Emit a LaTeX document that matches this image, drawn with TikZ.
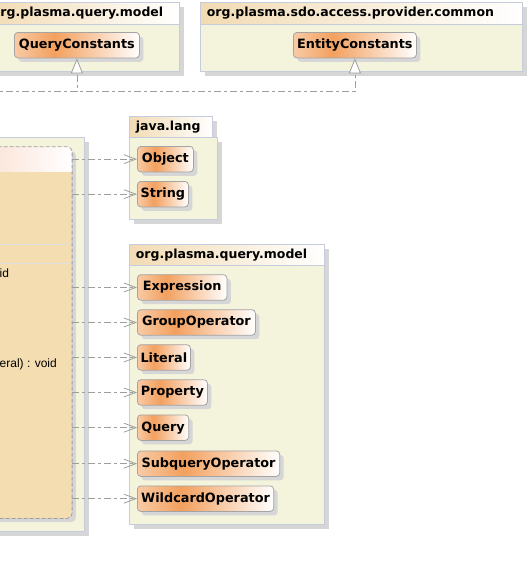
\documentclass[tikz,border=0pt]{standalone}
\usepackage{fontspec}
\setmainfont{DejaVu Sans}
\newfontfamily\opfont{Liberation Sans}
\usetikzlibrary{arrows.meta,shadows}

\definecolor{pkgbody}{HTML}{F4F4DC}
\definecolor{pkgline}{HTML}{C5CCDD}
\definecolor{shadowgrey}{HTML}{D6D6D6}
\definecolor{pkghead}{HTML}{F2DBB3}
\definecolor{orangeA}{HTML}{F8CBA6}
\definecolor{orangeB}{HTML}{F3A05E}
\definecolor{typeline}{HTML}{A4A4A4}
\definecolor{clsfill}{HTML}{F5DDB2}
\definecolor{clshead}{HTML}{F9DACA}
\definecolor{edgegrey}{HTML}{9E9E9E}

\pgfdeclarehorizontalshading{typeshade}{100bp}{color(0bp)=(orangeA); color(25bp)=(orangeA); color(41bp)=(orangeB); color(75bp)=(white); color(100bp)=(white)}

\tikzset{
  shade4/.style={general shadow={fill=shadowgrey, shadow xshift=4.5pt, shadow yshift=-4.5pt}},
  pkghd/.style={anchor=north west, left color=pkghead, right color=white, draw=pkgline,
    line width=0.8pt, inner xsep=6.5pt, inner ysep=0pt, align=left, shade4,
    font=\fontsize{12.5}{14}\selectfont\bfseries},
  pkgbd/.style={anchor=north west, fill=pkgbody, draw=pkgline, line width=0.8pt,
    inner sep=0pt, shade4},
  typ/.style={anchor=north west, draw=typeline, line width=0.8pt, rounded corners=3.5pt,
    shading=typeshade, inner sep=0pt, minimum height=25.5pt,
    font=\fontsize{12.8}{14}\selectfont\bfseries,
    general shadow={fill=shadowgrey, shadow xshift=4pt, shadow yshift=-4pt}},
  dep/.style={draw=edgegrey, line width=0.8pt,
    dash pattern=on 7pt off 3pt on 3pt off 3pt,
    -{Straight Barb[length=12pt, width=9pt]}},
  real/.style={draw=edgegrey, line width=0.8pt,
    dash pattern=on 7pt off 3pt on 3pt off 3pt,
    -{Triangle[open, fill=white, length=15pt, width=12pt]}},
  oplabel/.style={anchor=west, inner sep=0pt, font=\opfont\fontsize{12}{14}\selectfont}
}

\begin{document}
\begin{tikzpicture}[x=1pt, y=-1pt]
\useasboundingbox (0,0) rectangle (530,574);
\clip (0,0) rectangle (530,574);

% package org.plasma.query.model (top)
\node[pkghd, minimum width=194pt, minimum height=22pt, text width=181pt] (pqhd) at (-15,2) {org.plasma.query.model};
\node[pkgbd, minimum width=194pt, minimum height=47pt] (pqbd) at (-15,24) {};
\node[typ, minimum width=125pt] (qc) at (14,32) {QueryConstants};

% package org.plasma.sdo.access.provider.common
\node[pkghd, minimum width=322pt, minimum height=22pt, text width=309pt] (pshd) at (200,2) {org.plasma.sdo.access.provider.common};
\node[pkgbd, minimum width=322pt, minimum height=47pt] (psbd) at (200,24) {};
\node[typ, minimum width=123pt] (ec) at (293,32) {EntityConstants};

% package java.lang
\node[pkghd, minimum width=83pt, minimum height=21pt, text width=70pt] (jlhd) at (129,116) {java.lang};
\node[pkgbd, minimum width=88pt, minimum height=82pt] (jlbd) at (129,137) {};
\node[typ, minimum width=56pt] (obj) at (137,146) {Object};
\node[typ, minimum width=51pt] (str) at (137,181) {String};

% package org.plasma.query.model (bottom)
\node[pkghd, minimum width=195pt, minimum height=21pt, text width=182pt] (pmhd) at (129,244) {org.plasma.query.model};
\node[pkgbd, minimum width=195pt, minimum height=259pt] (pmbd) at (129,265) {};
\node[typ, minimum width=89.5pt] (expr) at (137,274.3) {Expression};
\node[typ, minimum width=118pt] (grp) at (137,309.3) {GroupOperator};
\node[typ, minimum width=53pt] (lit) at (137,344.3) {Literal};
\node[typ, minimum width=70pt] (prop) at (137,379.3) {Property};
\node[typ, minimum width=51.3pt] (qry) at (137,414.5) {Query};
\node[typ, minimum width=142.3pt] (sub) at (137,450.5) {SubqueryOperator};
\node[typ, minimum width=136.3pt] (wild) at (137,485.5) {WildcardOperator};

% enclosing package of the query class
\node[pkgbd, minimum width=124pt, minimum height=394pt] (lpkg) at (-40,137.3) {};

% the query class itself
\node[anchor=north west, fill=clsfill, rounded corners=5pt, inner sep=0pt,
      minimum width=111.7pt, minimum height=371.3pt,
      general shadow={fill=shadowgrey, shadow xshift=4pt, shadow yshift=-4pt}] (cls) at (-40,146.7) {};
\begin{scope}
  \clip[rounded corners=5pt] (cls.south west) rectangle (cls.north east);
  \shade[left color=clshead, right color=white] (cls.north west) rectangle (cls.east |- 0,171);
\end{scope}
\draw[white!88!black, line width=0.9pt] (cls.west |- 0,244.3) -- (cls.east |- 0,244.3);
\draw[white!88!black, line width=0.9pt] (cls.west |- 0,263) -- (cls.east |- 0,263);
\draw[edgegrey, line width=0.8pt, dash pattern=on 4pt off 2pt, rounded corners=5pt]
  (cls.south west) rectangle (cls.north east);
\node[oplabel] (op1) at (-0.5,273) {id};
\node[oplabel] (op2) at (-0.5,364) {eral) : void};

% dependencies
\draw[dep] (cls.east |- obj.west) -- (obj.west);
\draw[dep] (cls.east |- str.west) -- (str.west);
\draw[dep] (cls.east |- expr.west) -- (expr.west);
\draw[dep] (cls.east |- grp.west) -- (grp.west);
\draw[dep] (cls.east |- lit.west) -- (lit.west);
\draw[dep] (cls.east |- prop.west) -- (prop.west);
\draw[dep] (cls.east |- qry.west) -- (qry.west);
\draw[dep] (cls.east |- sub.west) -- (sub.west);
\draw[dep] (cls.east |- wild.west) -- (wild.west);

% realizations
\coordinate (rl) at (-10,91);
\draw[real] (rl) -| (qc.south);
\draw[real] (rl) -| (ec.south);
\end{tikzpicture}
\end{document}
